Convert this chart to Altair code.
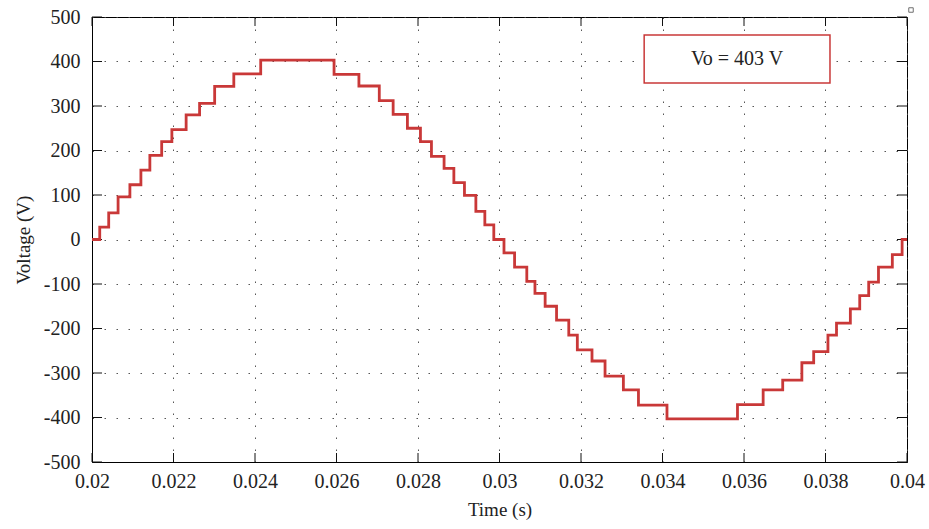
import altair as alt
import pandas as pd

# ---- data (time in s, voltage in V) ----
step_times = [0.02000, 0.02019, 0.02041, 0.02064, 0.02093, 0.02120, 0.02142, 0.02171, 0.02196, 0.02231,
              0.02264, 0.02301, 0.02348, 0.02414, 0.02594, 0.02655, 0.02705, 0.02739, 0.02774, 0.02806,
              0.02833, 0.02864, 0.02888, 0.02914, 0.02942, 0.02964, 0.02986, 0.03011, 0.03037, 0.03067,
              0.03087, 0.03112, 0.03140, 0.03170, 0.03191, 0.03227, 0.03259, 0.03304, 0.03341, 0.03411,
              0.03584, 0.03647, 0.03695, 0.03742, 0.03771, 0.03806, 0.03827, 0.03861, 0.03884, 0.03906,
              0.03930, 0.03964, 0.03988, 0.04000]
step_levels = [0, 28, 60, 96, 123, 156, 189, 220, 247, 280,
               306, 344, 372, 403, 371, 345, 312, 281, 250, 220,
               187, 160, 128, 99, 63, 33, 0, -30, -62, -94,
               -121, -150, -181, -215, -248, -273, -307, -338, -372, -403,
               -371, -338, -316, -277, -252, -215, -188, -156, -126, -96,
               -62, -34, 0, 0]

x_ticks = [0.02, 0.022, 0.024, 0.026, 0.028, 0.03, 0.032, 0.034, 0.036, 0.038, 0.04]
y_ticks = [-500, -400, -300, -200, -100, 0, 100, 200, 300, 400, 500]

ann_text = ["Vo = 403 V"]
ann_x1, ann_x2 = [0.03355], [0.03811]
ann_y1, ann_y2 = [459.6], [351.7]

RED = "#c93838"
FONT = "Liberation Serif"
W, H = 815, 445

df = pd.DataFrame({"t": step_times, "v": step_levels})
x_scale = alt.Scale(domain=[0.02, 0.04], nice=False, zero=False)
y_scale = alt.Scale(domain=[-500, 500], nice=False, zero=False)
x_axis = alt.Axis(values=x_ticks, format="~g", title="Time (s)", grid=True,
                  labelPadding=9, titlePadding=9, labelFlush=False, labelOverlap=False)
y_axis = alt.Axis(values=y_ticks, labelExpr="'' + datum.value", title="Voltage (V)",
                  grid=True, labelPadding=12, titlePadding=10, labelFlush=False, labelOverlap=False)

line = alt.Chart(df).mark_line(interpolate="step-after", color=RED, strokeWidth=2.8).encode(
    x=alt.X("t:Q", scale=x_scale, axis=x_axis),
    y=alt.Y("v:Q", scale=y_scale, axis=y_axis),
)

xt = pd.DataFrame({"t": x_ticks})
yt = pd.DataFrame({"v": y_ticks})
tick_color = "#111"
bottom_ticks = alt.Chart(xt).mark_rule(color=tick_color, strokeWidth=1).encode(
    x=alt.X("t:Q", scale=x_scale, axis=x_axis), y=alt.value(H), y2=alt.value(H - 9))
top_ticks = alt.Chart(xt).mark_rule(color=tick_color, strokeWidth=1).encode(
    x=alt.X("t:Q", scale=x_scale, axis=x_axis), y=alt.value(0), y2=alt.value(9))
left_ticks = alt.Chart(yt).mark_rule(color=tick_color, strokeWidth=1).encode(
    y=alt.Y("v:Q", scale=y_scale, axis=y_axis), x=alt.value(0), x2=alt.value(10))
right_ticks = alt.Chart(yt).mark_rule(color=tick_color, strokeWidth=1).encode(
    y=alt.Y("v:Q", scale=y_scale, axis=y_axis), x=alt.value(W), x2=alt.value(W - 10))

ann = pd.DataFrame({"x1": ann_x1, "x2": ann_x2, "y1": ann_y1, "y2": ann_y2, "label": ann_text})
box = alt.Chart(ann).mark_rect(fill="white", stroke=RED, strokeWidth=1.5).encode(
    x=alt.X("x1:Q", scale=x_scale, axis=x_axis), x2="x2:Q",
    y=alt.Y("y1:Q", scale=y_scale, axis=y_axis), y2="y2:Q")
label = alt.Chart(ann).transform_calculate(
    xm="(datum.x1 + datum.x2) / 2", ym="(datum.y1 + datum.y2) / 2"
).mark_text(font=FONT, fontSize=20, color="#222", align="center", baseline="middle").encode(
    x=alt.X("xm:Q", scale=x_scale, axis=x_axis),
    y=alt.Y("ym:Q", scale=y_scale, axis=y_axis),
    text="label:N")

corner = alt.Chart(pd.DataFrame({"a": [0]})).mark_square(
    size=20, filled=False, stroke="#333", strokeWidth=1).encode(
    x=alt.value(W + 4), y=alt.value(-7))

chart = alt.layer(bottom_ticks, top_ticks, left_ticks, right_ticks, box, label, line, corner).properties(
    width=W, height=H,
    autosize=alt.AutoSizeParams(type="none"),
    padding={"left": 92, "top": 17, "right": 22, "bottom": 67},
    background="white",
).configure_view(
    stroke="black", strokeWidth=1
).configure_axis(
    domainColor="black", domainWidth=1, tickSize=0,
    gridColor="#444", gridDash=[1.5, 10.5], gridWidth=1, gridOpacity=0.9,
    labelFont=FONT, labelFontSize=20, labelColor="#222",
    titleFont=FONT, titleFontSize=19, titleFontWeight="normal", titleColor="#222",
)

chart.save("out.html", embed_options={"renderer": "svg", "actions": False})
